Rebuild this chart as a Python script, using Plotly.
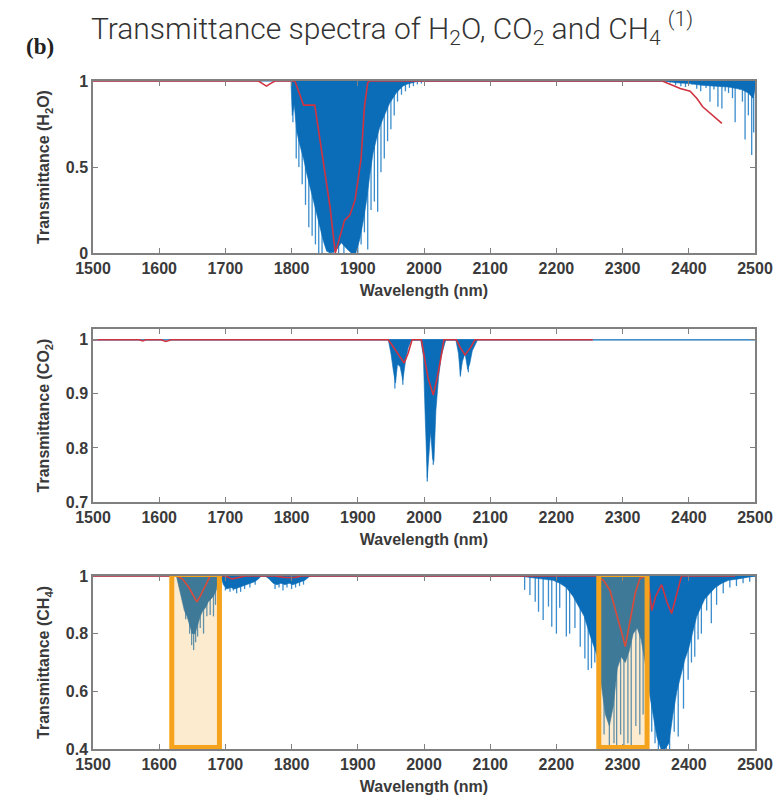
import plotly.graph_objects as go

# ---------------- data ----------------
wl_ticks = [1500, 1600, 1700, 1800, 1900, 2000, 2100, 2200, 2300, 2400, 2500]

# H2O
h2o_env_wl = [1799, 1801, 1804, 1808, 1813, 1818, 1823, 1828, 1833, 1838, 1843, 1848, 1853, 1860,
              1868, 1875, 1882, 1890, 1897, 1903, 1908, 1913, 1918, 1923, 1928, 1933, 1938, 1943,
              1948, 1953, 1958, 1963, 1968, 1973, 1978, 1983, 1988, 1992,
              2365, 2380, 2400, 2420, 2440, 2460, 2480, 2490, 2497, 2500]
h2o_env_T = [1.0, 0.80, 0.86, 0.70, 0.62, 0.55, 0.46, 0.38, 0.30, 0.22, 0.14, 0.07, 0.01, 0.0,
             0.02, 0.06, 0.03, 0.0, 0.0, 0.08, 0.18, 0.30, 0.45, 0.58, 0.66, 0.73, 0.78, 0.83,
             0.87, 0.90, 0.93, 0.95, 0.97, 0.98, 0.985, 0.99, 0.995, 1.0,
             1.0, 0.99, 0.985, 0.975, 0.97, 0.965, 0.95, 0.93, 0.90, 0.95]
h2o_spike_wl = [1802, 1807, 1811, 1816, 1821, 1826, 1831, 1836, 1841, 1846, 1851, 1857, 1863, 1871,
                1879, 1886, 1893, 1900, 1905, 1910, 1915, 1920, 1925, 1930, 1935, 1940, 1945, 1950,
                1955, 1960, 1966, 1972, 1978, 1984, 1990, 1996,
                2372, 2380, 2388, 2395, 2405, 2412, 2418, 2426, 2432, 2438, 2444, 2450, 2455, 2460,
                2466, 2470, 2477, 2481, 2485, 2490, 2495, 2498]
h2o_spike_T = [0.76, 0.55, 0.50, 0.40, 0.28, 0.15, 0.10, 0.05, 0.0, 0.0, 0.05, 0.0, 0.0, 0.0,
               0.0, 0.10, 0.0, 0.0, 0.05, 0.12, 0.02, 0.25, 0.30, 0.24, 0.47, 0.55, 0.65, 0.72,
               0.80, 0.88, 0.92, 0.94, 0.96, 0.97, 0.98, 0.985,
               0.99, 0.975, 0.97, 0.965, 0.98, 0.955, 0.94, 0.96, 0.88, 0.95, 0.85, 0.84, 0.94, 0.93,
               0.90, 0.76, 0.95, 0.88, 0.66, 0.80, 0.57, 0.70]
h2o_model_wl = [1500, 1750, 1756, 1762, 1768, 1775, 1805, 1818, 1835, 1848, 1858, 1866, 1872, 1880,
                1888, 1896, 1905, 1910, 1915, 1918, 2360, 2375, 2387, 2402, 2412, 2421, 2437, 2450]
h2o_model_T = [1, 1, 0.985, 0.97, 0.985, 1, 1, 0.86, 0.86, 0.53, 0.27, 0.0, 0.08, 0.19,
               0.22, 0.31, 0.55, 0.85, 0.99, 1, 1, 0.975, 0.957, 0.94, 0.90, 0.85, 0.80, 0.754]

# CO2
co2_env_wl = [1946, 1950, 1954, 1957, 1960, 1964, 1968, 1972, 1976, 1981,
              1995, 1999, 2002, 2005, 2007, 2010, 2013, 2015, 2018, 2022, 2026, 2030, 2033,
              2048, 2052, 2055, 2058, 2062, 2066, 2069, 2073, 2077, 2081]
co2_env_T = [1, 0.975, 0.94, 0.92, 0.955, 0.95, 0.925, 0.96, 0.985, 1,
             1, 0.97, 0.85, 0.745, 0.78, 0.83, 0.78, 0.775, 0.87, 0.93, 0.97, 0.99, 1,
             1, 0.975, 0.935, 0.96, 0.975, 0.945, 0.955, 0.98, 0.99, 1]
co2_spike_wl = [1956, 1968, 2005, 2014, 2055, 2067]
co2_spike_T = [0.91, 0.917, 0.738, 0.769, 0.932, 0.94]
co2_model_wl = [1500, 1570, 1575, 1580, 1603, 1610, 1618, 1946, 1952, 1960, 1970, 1976, 1982,
                1996, 2000, 2006, 2014, 2020, 2026, 2030, 2049, 2055, 2062, 2070, 2077, 2255]
co2_model_T = [1, 1, 0.998, 1, 1, 0.997, 1, 1, 0.99, 0.975, 0.957, 0.975, 1,
               1, 0.97, 0.93, 0.898, 0.93, 0.97, 1, 1, 0.985, 0.972, 0.985, 1, 1]

# CH4
ch4_env_wl = [1626, 1630, 1634, 1638, 1642, 1646, 1650, 1654, 1658, 1662, 1666, 1670, 1674, 1678,
              1682, 1686, 1690,
              1693, 1697, 1702, 1708, 1714, 1720, 1726, 1732, 1738, 1744, 1750, 1754,
              1760, 1766, 1772, 1778, 1784, 1790, 1796, 1802, 1808, 1814, 1820, 1828,
              2145, 2160, 2180, 2195, 2205, 2215, 2225, 2235, 2242, 2250, 2256, 2262, 2268, 2274,
              2280, 2286, 2292, 2298, 2304, 2310, 2316, 2322, 2328, 2334, 2340, 2346, 2352, 2358,
              2364, 2370, 2376, 2382, 2388, 2394, 2400, 2406, 2412, 2418, 2424, 2432, 2440, 2450,
              2460, 2475, 2490, 2500]
ch4_env_T = [1.0, 0.96, 0.92, 0.88, 0.86, 0.83, 0.80, 0.80, 0.83, 0.86, 0.88, 0.89, 0.91, 0.92,
             0.93, 0.95, 1.0,
             1, 0.97, 0.955, 0.96, 0.955, 0.96, 0.965, 0.97, 0.975, 0.98, 0.99, 1,
             1, 0.99, 0.975, 0.97, 0.975, 0.97, 0.975, 0.97, 0.975, 0.98, 0.985, 1,
             1, 0.995, 0.99, 0.985, 0.975, 0.96, 0.93, 0.89, 0.86, 0.80, 0.76, 0.72, 0.62, 0.52,
             0.48, 0.55, 0.68, 0.72, 0.70, 0.74, 0.80, 0.82, 0.78, 0.70, 0.60, 0.52, 0.44, 0.40,
             0.40, 0.42, 0.52, 0.60, 0.66, 0.71, 0.75, 0.81, 0.86, 0.89, 0.92, 0.94, 0.96, 0.975,
             0.985, 0.99, 0.995, 1]
ch4_spike_wl = [1640, 1646, 1649, 1652, 1655, 1658, 1662, 1667, 1672, 1677, 1682, 1685,
                1700, 1707, 1712, 1717, 1723, 1729, 1737, 1745,
                1775, 1781, 1787, 1793, 1800, 1806, 1812, 1818,
                2152, 2160, 2168, 2173, 2180, 2188, 2193, 2200, 2205, 2215, 2220, 2228, 2236, 2243,
                2248, 2253, 2258, 2264, 2272, 2280, 2287, 2291, 2297, 2302, 2308, 2313, 2320, 2326,
                2331, 2336, 2344, 2349, 2354, 2361, 2366, 2371, 2378, 2384, 2392, 2399, 2404, 2409,
                2414, 2419, 2427, 2434, 2442, 2452, 2462, 2472, 2482, 2492]
ch4_spike_T = [0.85, 0.80, 0.76, 0.743, 0.77, 0.79, 0.82, 0.80, 0.86, 0.865, 0.86, 0.90,
               0.95, 0.945, 0.95, 0.94, 0.945, 0.955, 0.96, 0.97,
               0.955, 0.96, 0.95, 0.96, 0.955, 0.96, 0.965, 0.97,
               0.952, 0.934, 0.911, 0.876, 0.847, 0.894, 0.824, 0.80, 0.89, 0.79, 0.80, 0.82, 0.755, 0.714,
               0.674, 0.68, 0.70, 0.55, 0.45, 0.40, 0.42, 0.40, 0.45, 0.40, 0.42, 0.40, 0.48, 0.45,
               0.52, 0.50, 0.46, 0.42, 0.40, 0.50, 0.40, 0.40, 0.46, 0.443, 0.54, 0.64, 0.70, 0.72,
               0.78, 0.80, 0.88, 0.836, 0.90, 0.94, 0.96, 0.965, 0.975, 0.98]
ch4_model_wl = [1500, 1626, 1635, 1645, 1652, 1657, 1662, 1670, 1677, 1700, 1710, 1720, 1730,
                1775, 1790, 1805, 1815, 2262, 2271, 2281, 2291, 2299, 2304, 2311, 2319, 2326,
                2334, 2338, 2344, 2350, 2359, 2367, 2374, 2381, 2389, 2470]
ch4_model_T = [1, 1, 0.99, 0.96, 0.93, 0.91, 0.93, 0.97, 1, 1, 0.99, 0.995, 1,
               1, 0.995, 0.995, 1, 1, 0.985, 0.95, 0.87, 0.80, 0.755, 0.84, 0.94, 0.99,
               1, 1, 0.88, 0.93, 0.97, 0.91, 0.87, 0.93, 1, 1]

highlight_wl = [[1619, 1691], [2264, 2337]]
highlight_T = [0.405, 1.005]

panels = [
    dict(name="H<sub>2</sub>O", env=(h2o_env_wl, h2o_env_T), spk=(h2o_spike_wl, h2o_spike_T),
         mod=(h2o_model_wl, h2o_model_T), yr=[0, 1], yt=[0, 0.5, 1], ytt=["0", "0.5", "1"]),
    dict(name="CO<sub>2</sub>", env=(co2_env_wl, co2_env_T), spk=(co2_spike_wl, co2_spike_T),
         mod=(co2_model_wl, co2_model_T), yr=[0.7, 1.02], yt=[0.7, 0.8, 0.9, 1],
         ytt=["0.7", "0.8", "0.9", "1"]),
    dict(name="CH<sub>4</sub>", env=(ch4_env_wl, ch4_env_T), spk=(ch4_spike_wl, ch4_spike_T),
         mod=(ch4_model_wl, ch4_model_T), yr=[0.4, 1.0], yt=[0.4, 0.6, 0.8, 1],
         ytt=["0.4", "0.6", "0.8", "1"]),
]

W, H = 784, 800
plot_x = (93, 755)
plot_y = [(81, 253), (329, 502), (576, 749)]

BLUE = "#0b6db8"
BLUE_L = "#3a8ccc"
RED = "#cf3440"
AX = "#808080"
TXT = "#3a3a3a"
FONT = "Liberation Sans"

fig = go.Figure()
layout = {}
for i, p in enumerate(panels):
    k = "" if i == 0 else str(i + 1)
    xa, ya = "x" + k, "y" + k
    ew, et = p["env"]
    # individual absorption lines (beneath the dense envelope)
    sx, sy = [], []
    for w_, t_ in zip(*p["spk"]):
        sx += [w_, w_, None]
        sy += [1.0, t_, None]
    fig.add_trace(go.Scatter(x=sx, y=sy, mode="lines", line=dict(color=BLUE_L, width=1.3),
                             xaxis=xa, yaxis=ya, showlegend=False, hoverinfo="skip"))
    # filled absorption envelope
    fig.add_trace(go.Scatter(x=list(ew) + list(ew[::-1]), y=list(et) + [1.0] * len(ew),
                             fill="toself", fillcolor=BLUE, mode="lines",
                             line=dict(color=BLUE, width=0.6), xaxis=xa, yaxis=ya,
                             showlegend=False, hoverinfo="skip"))
    # baseline of measured spectrum
    fig.add_trace(go.Scatter(x=[wl_ticks[0], wl_ticks[-1]], y=[1, 1], mode="lines",
                             line=dict(color=BLUE, width=1.2), xaxis=xa, yaxis=ya,
                             showlegend=False, hoverinfo="skip"))
    # model curve
    mw, mt = p["mod"]
    fig.add_trace(go.Scatter(x=mw, y=mt, mode="lines", line=dict(color=RED, width=1.6),
                             xaxis=xa, yaxis=ya, showlegend=False, hoverinfo="skip"))

    y0, y1 = plot_y[i]
    layout["xaxis" + k] = dict(
        domain=[plot_x[0] / W, plot_x[1] / W], anchor=ya, range=[1500, 2500],
        tickvals=wl_ticks, ticktext=[str(v) for v in wl_ticks],
        ticks="inside", ticklen=5, tickcolor=AX, tickwidth=1,
        showline=True, linecolor=AX, linewidth=1.5, mirror="ticks", showgrid=False,
        zeroline=False, tickfont=dict(family=FONT, size=16, color=TXT, weight="bold"),
        title=dict(text="Wavelength (nm)", standoff=9,
                   font=dict(family=FONT, size=16, color=TXT, weight="bold")),
        automargin=False)
    layout["yaxis" + k] = dict(
        domain=[1 - y1 / H, 1 - y0 / H], anchor=xa, range=p["yr"],
        tickvals=p["yt"], ticktext=p["ytt"],
        ticks="inside", ticklen=5, tickcolor=AX, tickwidth=1,
        showline=True, linecolor=AX, linewidth=1.5, mirror="ticks", showgrid=False,
        zeroline=False, tickfont=dict(family=FONT, size=16, color=TXT, weight="bold"),
        title=dict(text="Transmittance (" + p["name"] + ")", standoff=12,
                   font=dict(family=FONT, size=16, color=TXT, weight="bold")),
        automargin=False)

shapes = []
for lo, hi in highlight_wl:
    shapes.append(dict(type="rect", xref="x3", yref="y3", x0=lo, x1=hi,
                       y0=highlight_T[0], y1=highlight_T[1],
                       line=dict(color="#f5a21c", width=5),
                       fillcolor="rgba(245,166,40,0.22)", layer="above"))

fig.update_layout(
    width=W, height=H, margin=dict(l=0, r=0, t=0, b=0),
    paper_bgcolor="white", plot_bgcolor="white",
    title=dict(text="Transmittance spectra of H<sub>2</sub>O, CO<sub>2</sub> and CH<sub>4</sub> <sup>(1)</sup>",
               x=0.5, xanchor="center", y=1 - 28 / H, yanchor="middle",
               font=dict(family="Roboto", size=30, color="#333333", weight=300)),
    annotations=[dict(text="(b)", x=40 / W, y=1 - 46 / H, xref="paper", yref="paper",
                      showarrow=False, xanchor="center", yanchor="middle",
                      font=dict(family="Liberation Serif", size=23, color="#222222", weight="bold"))],
    shapes=shapes,
    **layout)

fig.write_html("out.html", config={"displayModeBar": False},
               post_script="document.body.style.margin='0';")
